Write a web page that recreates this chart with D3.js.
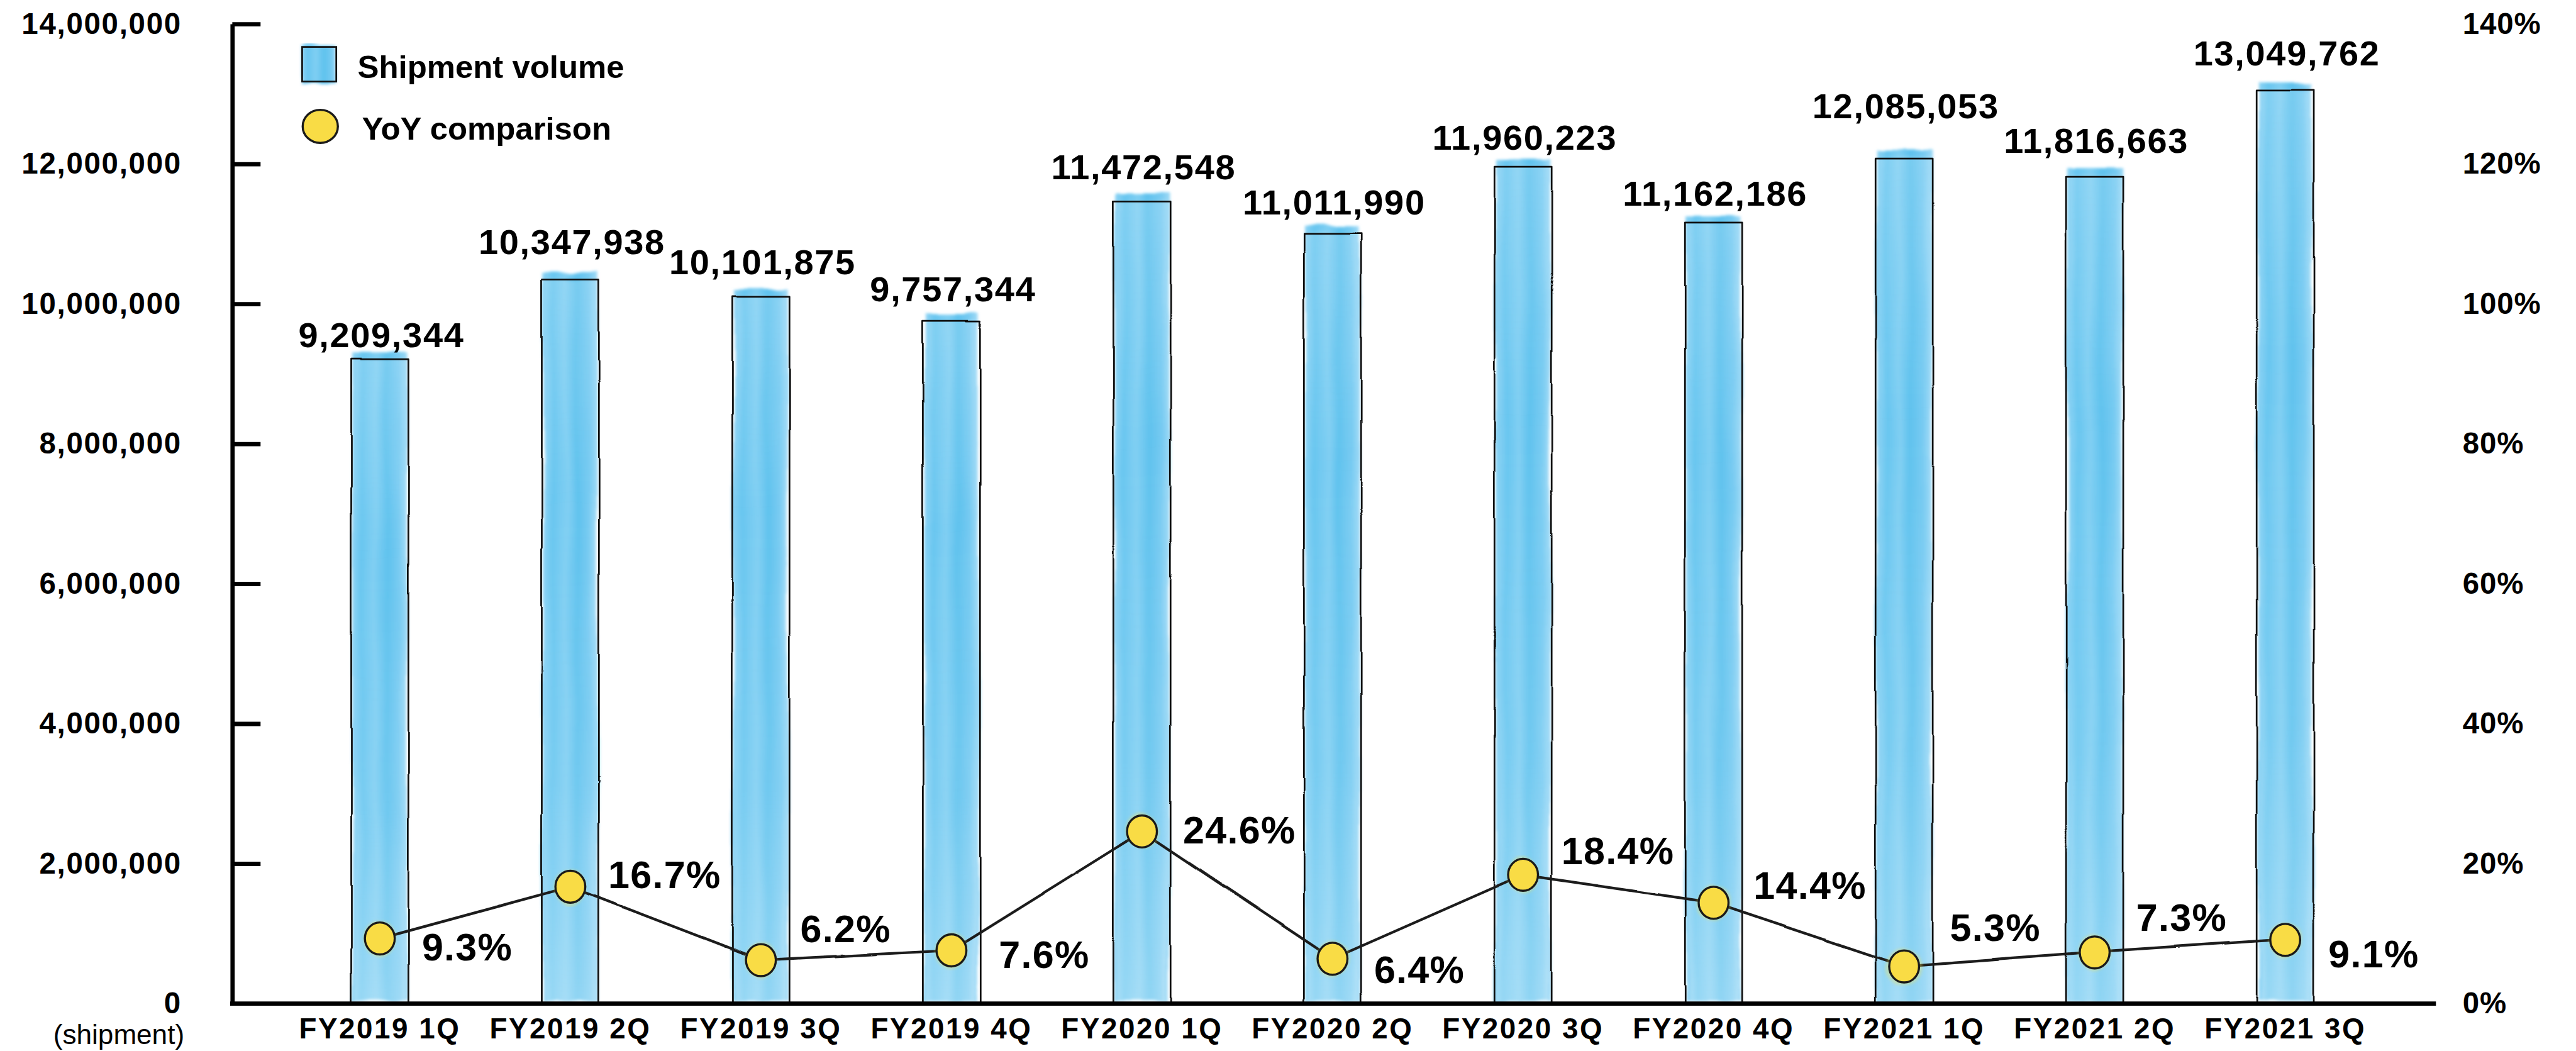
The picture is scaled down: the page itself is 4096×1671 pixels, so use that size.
<!DOCTYPE html>
<html>
<head>
<meta charset="utf-8">
<script src="https://cdn.jsdelivr.net/npm/d3@7"></script>
<style>
  html, body { margin: 0; padding: 0; background: #ffffff; }
  svg { display: block; }
  text { font-family: "Liberation Sans", Arial, Helvetica, sans-serif; font-weight: 700; fill: #000; }
  text.unit { font-weight: 400; }
</style>
</head>
<body>
<svg id="chart" width="4096" height="1671" viewBox="0 0 4830 1971"></svg>
<script>
// Quarterly shipments and year-over-year growth
const quarters = ["FY2019 1Q", "FY2019 2Q", "FY2019 3Q", "FY2019 4Q",
                  "FY2020 1Q", "FY2020 2Q", "FY2020 3Q", "FY2020 4Q",
                  "FY2021 1Q", "FY2021 2Q", "FY2021 3Q"];
const shipments = [9209344, 10347938, 10101875, 9757344,
                   11472548, 11011990, 11960223, 11162186,
                   12085053, 11816663, 13049762];
const yoyPct = [9.3, 16.7, 6.2, 7.6, 24.6, 6.4, 18.4, 14.4, 5.3, 7.3, 9.1];
const volumeTicks = [0, 2000000, 4000000, 6000000, 8000000, 10000000, 12000000, 14000000];
const pctTicks = [0, 20, 40, 60, 80, 100, 120, 140];
const legendLabels = ["Shipment volume", "YoY comparison"];
const unitLabel = "(shipment)";

// Hand placement of the labels (gap above bar top; offset of % label from its dot)
const barLabelGap = [23, 48, 42, 37, 40, 35, 32, 32, 74, 45, 47];
const pctLabelOffset = [[79, 41], [71, 3], [74, -34], [89, 33], [77, 22], [78, 45],
                        [72, -20], [75, -8], [86, -48], [78, -40], [81, 52]];

const svg = d3.select("#chart");
const axisX = 435, baseY = 1882, topY = 45, axisEnd = 4568;

const x = d3.scaleBand().domain(quarters).range([533, 4464])
  .paddingInner(0.7).paddingOuter(0.35);
const y = d3.scaleLinear().domain([0, 14000000]).range([baseY, topY]);
const yPct = d3.scaleLinear().domain([0, 140]).range([baseY, topY]);
const cx = q => x(q) + x.bandwidth() / 2;

// ---- defs: watercolour wash, inky outline, bar gradient
const defs = svg.append("defs");
const wash = defs.append("filter").attr("id", "wash")
  .attr("x", "-30%").attr("y", "-5%").attr("width", "160%").attr("height", "110%");
wash.append("feTurbulence").attr("type", "fractalNoise")
  .attr("baseFrequency", "0.02 0.004").attr("numOctaves", 2).attr("seed", 7).attr("result", "noise");
wash.append("feDisplacementMap").attr("in", "SourceGraphic").attr("in2", "noise")
  .attr("scale", 14).attr("xChannelSelector", "R").attr("yChannelSelector", "G").attr("result", "disp");
wash.append("feGaussianBlur").attr("in", "disp").attr("stdDeviation", 2.2);

const ink = defs.append("filter").attr("id", "ink")
  .attr("x", "-20%").attr("y", "-5%").attr("width", "140%").attr("height", "110%");
ink.append("feTurbulence").attr("type", "fractalNoise")
  .attr("baseFrequency", "0.004 0.006").attr("numOctaves", 1).attr("seed", 3).attr("result", "n");
ink.append("feDisplacementMap").attr("in", "SourceGraphic").attr("in2", "n")
  .attr("scale", 6).attr("xChannelSelector", "R").attr("yChannelSelector", "G");

const grad = defs.append("linearGradient").attr("id", "barFill")
  .attr("x1", "0").attr("x2", "1").attr("y1", "0").attr("y2", "0");
[[0, "#8dd3f4"], [0.18, "#68c6f0"], [0.42, "#80cff3"], [0.62, "#5fc2ee"], [0.85, "#78cbf2"], [1, "#a2dbf6"]]
  .forEach(([o, c]) => grad.append("stop").attr("offset", o).attr("stop-color", c));

const gradV = defs.append("linearGradient").attr("id", "barShade")
  .attr("x1", "0").attr("x2", "0").attr("y1", "0").attr("y2", "1");
[[0, "#ffffff", 0.15], [0.3, "#ffffff", 0], [0.7, "#ffffff", 0.1], [1, "#ffffff", 0.3]]
  .forEach(([o, c, a]) => gradV.append("stop").attr("offset", o).attr("stop-color", c).attr("stop-opacity", a));

// ---- bars
const bars = svg.append("g");
const bw = x.bandwidth();
bars.selectAll("rect.wash").data(quarters).join("rect").attr("class", "wash")
  .attr("x", q => x(q) + 2)
  .attr("y", (q, i) => y(shipments[i]) - 14)
  .attr("width", bw - 4)
  .attr("height", (q, i) => baseY - y(shipments[i]) + 10)
  .attr("fill", "url(#barFill)")
  .attr("filter", "url(#wash)");
bars.selectAll("rect.shade").data(quarters).join("rect").attr("class", "shade")
  .attr("x", q => x(q) + 6)
  .attr("y", (q, i) => y(shipments[i]))
  .attr("width", bw - 12)
  .attr("height", (q, i) => baseY - y(shipments[i]))
  .attr("fill", "url(#barShade)")
  .attr("filter", "url(#wash)");
bars.selectAll("path.outline").data(quarters).join("path").attr("class", "outline")
  .attr("d", (q, i) => {
    const l = x(q), r = x(q) + bw, t = y(shipments[i]);
    return `M${l},${baseY} L${l},${t} L${r},${t} L${r},${baseY}`;
  })
  .attr("fill", "none").attr("stroke", "#111").attr("stroke-width", 3.2)
  .attr("stroke-linejoin", "round")
  .attr("filter", "url(#ink)");

// ---- axes
const leftAxis = d3.axisLeft(y).tickValues(volumeTicks).tickFormat(d3.format(","))
  .tickSizeInner(-53).tickSizeOuter(0).tickPadding(95);
const gl = svg.append("g").attr("transform", `translate(${axisX},0)`).call(leftAxis);
gl.selectAll("line, path").attr("stroke", "#000").attr("stroke-width", 8);
gl.selectAll(".tick").filter(d => d === 0).select("line").remove();
gl.selectAll("text").attr("font-size", 56).attr("letter-spacing", 2)
  .attr("font-family", null).attr("fill", "#000");

const rightAxis = d3.axisRight(yPct).tickValues(pctTicks).tickFormat(d => d + "%")
  .tickSize(0).tickPadding(50);
const gr = svg.append("g").attr("transform", `translate(${axisEnd},0)`).call(rightAxis);
gr.select(".domain").remove();
gr.selectAll("text").attr("font-size", 56).attr("letter-spacing", 1)
  .attr("font-family", null).attr("fill", "#000");

svg.append("line").attr("x1", axisX - 4).attr("x2", axisEnd).attr("y1", baseY).attr("y2", baseY)
  .attr("stroke", "#000").attr("stroke-width", 8);

const bottomAxis = d3.axisBottom(x).tickSize(0).tickPadding(27);
const gb = svg.append("g").attr("transform", `translate(0,${baseY})`).call(bottomAxis);
gb.select(".domain").remove();
gb.selectAll("text").attr("font-size", 54).attr("letter-spacing", 3)
  .attr("font-family", null).attr("fill", "#000");

svg.append("text").attr("class", "unit").attr("x", 345).attr("y", 1958).attr("text-anchor", "end")
  .attr("font-size", 52).text(unitLabel);

// ---- bar value labels
svg.append("g").selectAll("text").data(quarters).join("text")
  .attr("x", q => cx(q) + 3)
  .attr("y", (q, i) => y(shipments[i]) - barLabelGap[i])
  .attr("text-anchor", "middle")
  .attr("font-size", 66).attr("letter-spacing", 2)
  .text((q, i) => d3.format(",")(shipments[i]));

// ---- YoY line and dots
const line = d3.line().x(d => cx(d.q)).y(d => yPct(d.p));
const pts = quarters.map((q, i) => ({ q, p: yoyPct[i] }));
svg.append("path").datum(pts).attr("d", line)
  .attr("fill", "none").attr("stroke", "#1c1c1c").attr("stroke-width", 5)
  .attr("stroke-linejoin", "round").attr("filter", "url(#ink)");

const dots = svg.append("g");
dots.selectAll("ellipse.halo").data(pts).join("ellipse").attr("class", "halo")
  .attr("cx", d => cx(d.q)).attr("cy", d => yPct(d.p))
  .attr("rx", 31).attr("ry", 34).attr("fill", "#f3e35a").attr("opacity", 0.35)
  .attr("filter", "url(#wash)");
dots.selectAll("ellipse.dot").data(pts).join("ellipse").attr("class", "dot")
  .attr("cx", d => cx(d.q)).attr("cy", d => yPct(d.p))
  .attr("rx", 28).attr("ry", 30)
  .attr("fill", "#f9dc45").attr("stroke", "#1a1a1a").attr("stroke-width", 4);

svg.append("g").selectAll("text").data(pts).join("text")
  .attr("x", (d, i) => cx(d.q) + pctLabelOffset[i][0])
  .attr("y", (d, i) => yPct(d.p) + pctLabelOffset[i][1])
  .attr("font-size", 72).attr("letter-spacing", 1.5)
  .text(d => d3.format(".1f")(d.p) + "%");

// ---- legend
const lg = svg.append("g");
lg.append("rect").attr("x", 567).attr("y", 84).attr("width", 62).attr("height", 74)
  .attr("fill", "url(#barFill)").attr("filter", "url(#wash)");
lg.append("rect").attr("x", 566).attr("y", 88).attr("width", 64).attr("height", 65)
  .attr("fill", "none").attr("stroke", "#111").attr("stroke-width", 3.2);
lg.append("text").attr("x", 670).attr("y", 146).attr("font-size", 60).text(legendLabels[0]);
lg.append("ellipse").attr("cx", 600).attr("cy", 237).attr("rx", 33).attr("ry", 31)
  .attr("fill", "#f9dc45").attr("stroke", "#1a1a1a").attr("stroke-width", 4);
lg.append("text").attr("x", 678).attr("y", 262).attr("font-size", 60).text(legendLabels[1]);
</script>
</body>
</html>
